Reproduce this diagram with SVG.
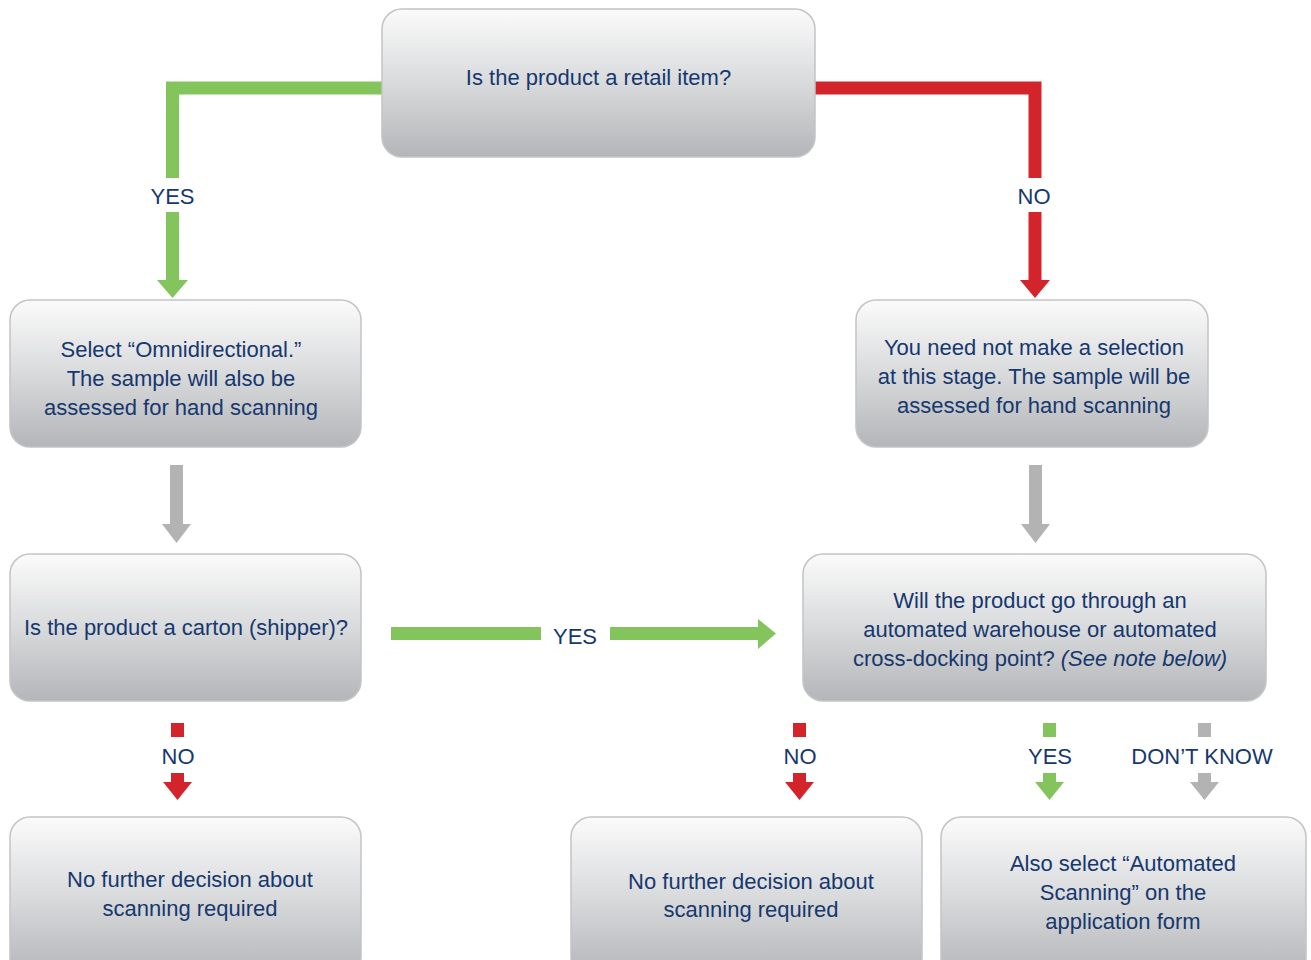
<svg xmlns="http://www.w3.org/2000/svg" width="1311" height="960" viewBox="0 0 1311 960">
<defs>
<linearGradient id="boxg" x1="0" y1="0" x2="0" y2="1">
<stop offset="0" stop-color="#fbfbfb"/>
<stop offset="0.5" stop-color="#d9dadc"/>
<stop offset="1" stop-color="#b4b5b8"/>
</linearGradient>
<style>
.box{fill:url(#boxg);stroke:#c3c4c6;stroke-width:1.5}
.t{font-family:"Liberation Sans",Arial,sans-serif;font-size:22px;fill:#16386e;text-anchor:middle}
.g{stroke:#84c45c;stroke-width:13;fill:none;stroke-linejoin:miter;stroke-linecap:butt}
.r{stroke:#d3242c;stroke-width:13;fill:none;stroke-linejoin:miter;stroke-linecap:butt}
.y{stroke:#b3b3b4;stroke-width:13;fill:none;stroke-linecap:butt}
.gf{fill:#84c45c}.rf{fill:#d3242c}.yf{fill:#b3b3b4}
</style>
</defs>
<rect width="1311" height="960" fill="#ffffff"/>
<g id="connectors">
<path class="g" d="M383 88 H172.5 V178"/>
<path class="g" d="M172.5 212 V281"/>
<polygon class="gf" points="157,280 188,280 172.5,298"/>
<text class="t" x="172.5" y="204">YES</text>
<path class="r" d="M814 88 H1035 V178"/>
<path class="r" d="M1035 212 V281"/>
<polygon class="rf" points="1020,280 1050,280 1035,298"/>
<text class="t" x="1034" y="204">NO</text>
<path class="y" d="M176.5 465 V525"/>
<polygon class="yf" points="162,524 191,524 176.5,543"/>
<path class="y" d="M1035.5 465 V525"/>
<polygon class="yf" points="1021,524 1050,524 1035.5,543"/>
<path class="g" d="M391 633.5 H541"/>
<path class="g" d="M610 633.5 H759"/>
<polygon class="gf" points="758,619 758,649 776,633.5"/>
<text class="t" x="575" y="644">YES</text>
<rect class="rf" x="171" y="723" width="13" height="14"/>
<text class="t" x="178" y="764">NO</text>
<path class="r" d="M177.5 773 V783"/>
<polygon class="rf" points="163,782 192,782 177.5,800"/>
<rect class="rf" x="793" y="723" width="13" height="14"/>
<text class="t" x="800" y="764">NO</text>
<path class="r" d="M799.5 773 V783"/>
<polygon class="rf" points="785,782 814,782 799.5,800"/>
<rect class="gf" x="1043" y="723" width="13" height="14"/>
<text class="t" x="1050" y="764">YES</text>
<path class="g" d="M1049.5 773 V783"/>
<polygon class="gf" points="1035,782 1064,782 1049.5,800"/>
<rect class="yf" x="1198" y="723" width="13" height="14"/>
<text class="t" x="1202" y="764">DON’T KNOW</text>
<path class="y" d="M1204.5 773 V783"/>
<polygon class="yf" points="1190,782 1219,782 1204.5,800"/>
</g>
<g id="n1">
<rect class="box" x="382" y="9" width="433" height="148" rx="20"/>
<text class="t" x="598.5" y="85">Is the product a retail item?</text>
</g>
<g id="n2">
<rect class="box" x="10" y="300" width="351" height="147" rx="20"/>
<text class="t" x="181" y="357">Select “Omnidirectional.”</text>
<text class="t" x="181" y="386">The sample will also be</text>
<text class="t" x="181" y="415">assessed for hand scanning</text>
</g>
<g id="n3">
<rect class="box" x="856" y="300" width="352" height="147" rx="20"/>
<text class="t" x="1034" y="355">You need not make a selection</text>
<text class="t" x="1034" y="384">at this stage. The sample will be</text>
<text class="t" x="1034" y="413">assessed for hand scanning</text>
</g>
<g id="n4">
<rect class="box" x="10" y="554" width="351" height="147" rx="20"/>
<text class="t" x="186" y="635">Is the product a carton (shipper)?</text>
</g>
<g id="n5">
<rect class="box" x="803" y="554" width="463" height="147" rx="20"/>
<text class="t" x="1040" y="608">Will the product go through an</text>
<text class="t" x="1040" y="637">automated warehouse or automated</text>
<text class="t" x="1040" y="666">cross-docking point? <tspan font-style="italic">(See note below)</tspan></text>
</g>
<g id="n6">
<rect class="box" x="10" y="817" width="351" height="160" rx="20"/>
<text class="t" x="190" y="887">No further decision about</text>
<text class="t" x="190" y="916">scanning required</text>
</g>
<g id="n7">
<rect class="box" x="571" y="817" width="351" height="160" rx="20"/>
<text class="t" x="751" y="889">No further decision about</text>
<text class="t" x="751" y="917">scanning required</text>
</g>
<g id="n8">
<rect class="box" x="941" y="817" width="365" height="160" rx="20"/>
<text class="t" x="1123" y="871">Also select “Automated</text>
<text class="t" x="1123" y="900">Scanning” on the</text>
<text class="t" x="1123" y="929">application form</text>
</g>
</svg>
